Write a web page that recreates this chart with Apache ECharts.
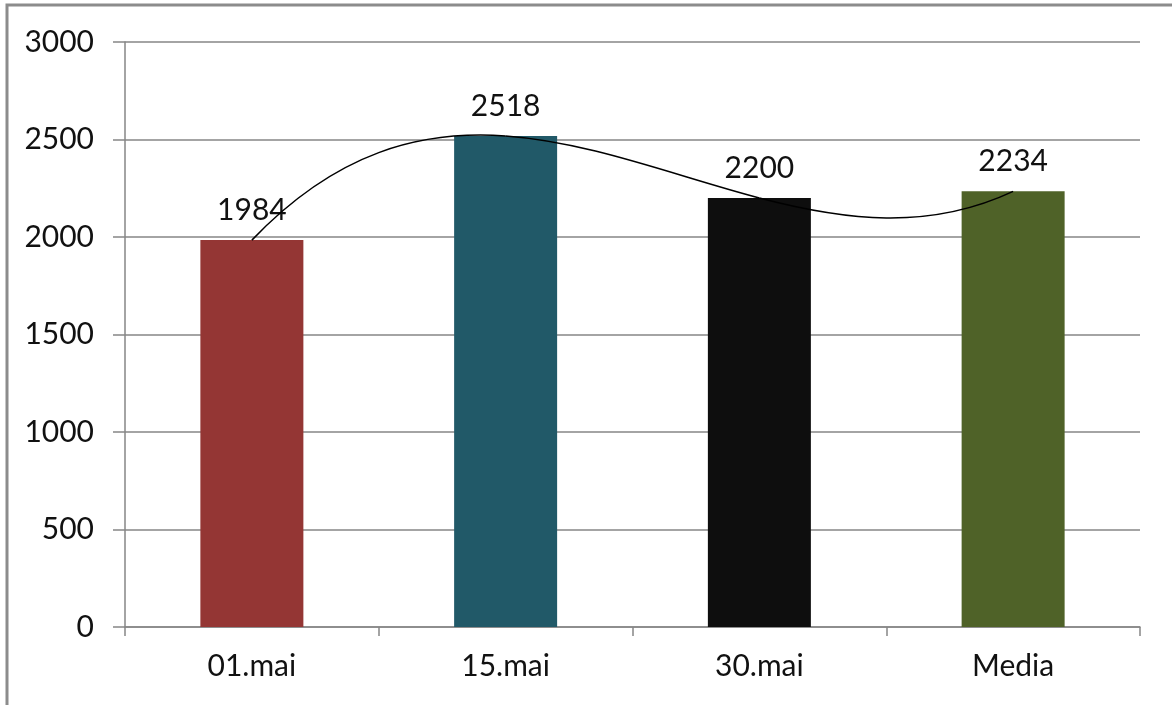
<!DOCTYPE html>
<html>
<head>
<meta charset="utf-8">
<script src="https://cdn.jsdelivr.net/npm/echarts@6/dist/echarts.min.js"></script>
<style>html,body{margin:0;padding:0;background:#fff;}#c{width:1172px;height:705px;}</style>
</head>
<body>
<div id="c"></div>
<script>
const categories = ['01.mai', '15.mai', '30.mai', 'Media'];
const values = [1984, 2518, 2200, 2234];
const barColors = ['#943634', '#215968', '#0e0e0e', '#4f6228'];
const yTicks = [0, 500, 1000, 1500, 2000, 2500, 3000];
const trendOrder = 3; // polynomial trendline (order 3)

// Least-squares polynomial fit (x = 1..n), like a spreadsheet polynomial trendline
function polyFit(ys, order) {
  const n = order + 1;
  const A = Array.from({length: n}, () => new Array(n + 1).fill(0));
  ys.forEach((y, i) => {
    const x = i + 1;
    for (let r = 0; r < n; r++) {
      for (let c = 0; c < n; c++) A[r][c] += Math.pow(x, r + c);
      A[r][n] += y * Math.pow(x, r);
    }
  });
  for (let i = 0; i < n; i++) {
    let p = i;
    for (let k = i + 1; k < n; k++) if (Math.abs(A[k][i]) > Math.abs(A[p][i])) p = k;
    [A[i], A[p]] = [A[p], A[i]];
    for (let k = i + 1; k < n; k++) {
      const f = A[k][i] / A[i][i];
      for (let c = i; c <= n; c++) A[k][c] -= f * A[i][c];
    }
  }
  const coef = new Array(n).fill(0);
  for (let i = n - 1; i >= 0; i--) {
    let s = A[i][n];
    for (let c = i + 1; c < n; c++) s -= A[i][c] * coef[c];
    coef[i] = s / A[i][i];
  }
  return coef;
}
const coef = polyFit(values, trendOrder);
const polyVal = x => coef.reduce((s, c, k) => s + c * Math.pow(x, k), 0);
const polyDer = x => coef.reduce((s, c, k) => s + (k ? k * c * Math.pow(x, k - 1) : 0), 0);

const chart = echarts.init(document.getElementById('c'));
const font = 'Lato, "Open Sans", sans-serif';
chart.setOption({
  animation: false,
  backgroundColor: '#fff',
  graphic: [{
    type: 'rect', shape: {x: 7, y: 5, width: 1180, height: 720},
    style: {fill: 'none', stroke: '#8c8c8c', lineWidth: 3}, silent: true
  }],
  grid: {left: 125, right: 32, top: 42, bottom: 78},
  xAxis: {
    type: 'category', data: categories,
    axisLine: {lineStyle: {color: '#868686', width: 1.5}},
    axisTick: {show: true, length: 9, lineStyle: {color: '#868686', width: 1.5}},
    axisLabel: {color: '#111', fontSize: 30, fontFamily: font, margin: 24}
  },
  yAxis: {
    type: 'value', min: yTicks[0], max: yTicks[yTicks.length - 1], interval: 500,
    axisLine: {show: true, lineStyle: {color: '#868686', width: 1.5}},
    axisTick: {show: true, length: 12, lineStyle: {color: '#868686', width: 1.5}},
    splitLine: {lineStyle: {color: '#868686', width: 1.5}},
    axisLabel: {color: '#111', fontSize: 30, fontFamily: font, margin: 31, formatter: v => String(v)}
  },
  series: [{
    type: 'bar', barWidth: 103,
    data: values.map((v, i) => ({value: v, itemStyle: {color: barColors[i]}})),
    label: {show: true, position: 'top', distance: 15, color: '#111', fontSize: 30, fontFamily: font}
  }, {
    type: 'custom', z: 5, silent: true,
    data: values,
    renderItem: function (params, api) {
      if (params.dataIndex !== 0) return null;
      const n = values.length;
      const children = [];
      for (let i = 0; i < n - 1; i++) {
        const xa = i + 1, xb = i + 2;
        const pa = api.coord([i, polyVal(xa)]);
        const pb = api.coord([i + 1, polyVal(xb)]);
        const c1y = api.coord([i, polyVal(xa) + polyDer(xa) / 3])[1];
        const c2y = api.coord([i, polyVal(xb) - polyDer(xb) / 3])[1];
        const dx = pb[0] - pa[0];
        children.push({
          type: 'bezierCurve',
          shape: {x1: pa[0], y1: pa[1], x2: pb[0], y2: pb[1],
                  cpx1: pa[0] + dx / 3, cpy1: c1y, cpx2: pa[0] + 2 * dx / 3, cpy2: c2y},
          style: {stroke: '#000', lineWidth: 1.5, fill: null}
        });
      }
      return {type: 'group', children: children};
    }
  }]
});
</script>
</body>
</html>
